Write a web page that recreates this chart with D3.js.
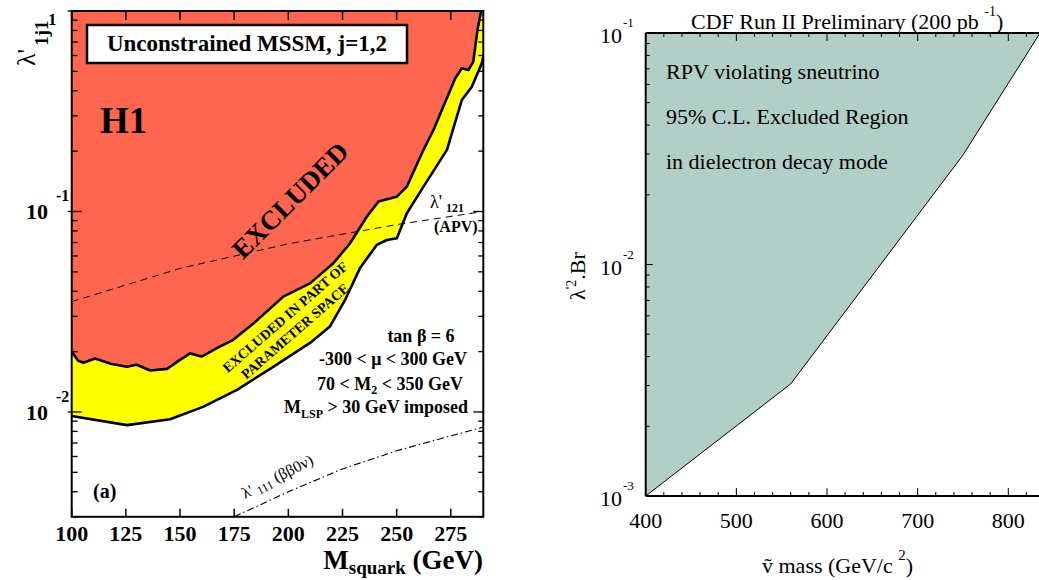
<!DOCTYPE html>
<html><head><meta charset="utf-8">
<script src="https://cdn.jsdelivr.net/npm/d3@7"></script>
<style>body{margin:0;background:#fff} svg{display:block}</style>
</head><body>
<svg id="c" width="1039" height="580"></svg>
<script>
// ---------- Left panel data (H1) ----------
const leftXTicks = [100,125,150,175,200,225,250,275];
const leftXTickLabels = ["100","125","150","175","200","225","250","275"];
const redMass   = [100,103,105.4,110.8,118,125.4,130,136.2,144,150,154.6,160,167,174.6,184,197.7,210,220.8,228.5,236.2,241.6,250.1,254.7,262.4,267,277,280.1,283.1,285.4,287.3,289];
const redLambda = [0.0200,0.0180,0.0176,0.0185,0.0174,0.0168,0.0172,0.0161,0.0164,0.0182,0.0196,0.0189,0.0208,0.0229,0.0277,0.0376,0.0438,0.0552,0.0694,0.0942,0.112,0.1185,0.133,0.203,0.255,0.461,0.518,0.508,0.559,0.804,1.0];
const yellowMass   = [100,125.5,145.4,160.6,176.3,193,210,219.3,226.2,233.1,240.8,245.5,250.1,254.7,262.4,273.2,280.1,284.7,289.3,290];
const yellowLambda = [0.00955,0.0086,0.0092,0.0106,0.0129,0.0168,0.0221,0.0268,0.0362,0.0523,0.0681,0.0721,0.0735,0.098,0.133,0.203,0.36,0.419,0.548,0.592];
const apvMass   = [100,150,200,250,290];
const apvLambda = [0.0355,0.052,0.069,0.086,0.100];
const bbMass    = [175,200,225,250,275,290];
const bbLambda  = [0.0030,0.0040,0.0052,0.0064,0.0076,0.0084];

// ---------- Right panel data (CDF) ----------
const rightXTicks = [400,500,600,700,800];
const rightXTickLabels = ["400","500","600","700","800"];
const rightYDecades = [0.1,0.01,0.001];
const rightYExp = ["-1","-2","-3"];
const rpvMass  = [400,560,750,835];
const rpvLimit = [0.001,0.00305,0.0297,0.1];

const svg = d3.select('#c');
const serif = "'Liberation Serif','Times New Roman',serif";

// ================= LEFT PANEL =================
const xL = d3.scaleLinear().domain([100,290]).range([71.7,483.3]);
const yL = d3.scaleLog().domain([0.003,1]).range([516.8,11]);
const L = {l:xL.range()[0], r:xL.range()[1], t:yL.range()[1], b:yL.range()[0]};

svg.append('clipPath').attr('id','clipL').append('rect')
  .attr('x',L.l).attr('y',L.t).attr('width',L.r-L.l).attr('height',L.b-L.t);
const gL = svg.append('g').attr('clip-path','url(#clipL)');

const yellowPts = yellowMass.map((m,i)=>[m,yellowLambda[i]]);
const redPts = redMass.map((m,i)=>[m,redLambda[i]]);
const line = d3.line().x(d=>xL(d[0])).y(d=>yL(d[1]));

gL.append('path')
  .attr('d', line(yellowPts.concat([[290,1],[100,1]])) + 'Z')
  .attr('fill','#ffff00');
gL.append('path')
  .attr('d', line(redPts.concat([[100,1]])) + 'Z')
  .attr('fill','#ff6650');
gL.append('path').attr('d', line(yellowPts)).attr('fill','none').attr('stroke','#000').attr('stroke-width',2.6).attr('stroke-linejoin','round');
gL.append('path').attr('d', line(redPts)).attr('fill','none').attr('stroke','#000').attr('stroke-width',2.6).attr('stroke-linejoin','round');

gL.append('path').attr('d', line(apvMass.map((m,i)=>[m,apvLambda[i]])))
  .attr('fill','none').attr('stroke','#000').attr('stroke-width',1).attr('stroke-dasharray','7,5');
gL.append('path').attr('d', line(bbMass.map((m,i)=>[m,bbLambda[i]])))
  .attr('fill','none').attr('stroke','#000').attr('stroke-width',1.1).attr('stroke-dasharray','7,3,1.5,3');

svg.append('rect').attr('x',L.l).attr('y',L.t).attr('width',L.r-L.l).attr('height',L.b-L.t)
  .attr('fill','none').attr('stroke','#000').attr('stroke-width',2);

leftXTicks.forEach(v=>{
  svg.append('line').attr('x1',xL(v)).attr('x2',xL(v)).attr('y1',L.b).attr('y2',L.b-8).attr('stroke','#000').attr('stroke-width',1.5);
  svg.append('line').attr('x1',xL(v)).attr('x2',xL(v)).attr('y1',L.t).attr('y2',L.t+9).attr('stroke','#000').attr('stroke-width',1.5);
});
svg.append('g').selectAll('text').data(leftXTicks).join('text')
  .attr('x',d=>xL(d)).attr('y',541).attr('text-anchor','middle')
  .attr('font-family',serif).attr('font-weight','bold').attr('font-size',22)
  .text((d,i)=>leftXTickLabels[i]);

yL.ticks().forEach(v=>{
  const major = Math.abs(Math.log10(v)-Math.round(Math.log10(v)))<1e-6;
  const y = yL(v);
  svg.append('line').attr('x1',L.l-(major?4:0)).attr('x2',L.l+(major?10:6)).attr('y1',y).attr('y2',y).attr('stroke','#000').attr('stroke-width',1.3);
  svg.append('line').attr('x1',L.r).attr('x2',L.r-(major?10:5)).attr('y1',y).attr('y2',y).attr('stroke','#000').attr('stroke-width',1.3);
});
svg.append('text').attr('x',48).attr('y',25).attr('font-family',serif).attr('font-weight','bold').attr('font-size',17).text('1');
[[0.1,'-1'],[0.01,'-2']].forEach(([v,e])=>{
  const y = yL(v);
  svg.append('text').attr('x',26).attr('y',y+8).attr('font-family',serif).attr('font-weight','bold').attr('font-size',22).text('10');
  svg.append('text').attr('x',56).attr('y',y-10).attr('font-family',serif).attr('font-weight','bold').attr('font-size',16).text(e);
});
const yt = svg.append('text').attr('transform','translate(35,66) rotate(-90)')
  .attr('font-family',serif).attr('font-size',26);
yt.append('tspan').text("λ'");
yt.append('tspan').attr('dy',13).attr('dx',3).attr('font-weight','bold').attr('font-size',19).text('1j1');

const xt = svg.append('text').attr('x',483).attr('y',569).attr('text-anchor','end')
  .attr('font-family',serif).attr('font-weight','bold').attr('font-size',27);
xt.append('tspan').text('M');
xt.append('tspan').attr('dy',5).attr('font-size',19).text('squark');
xt.append('tspan').attr('dy',-5).text(' (GeV)');

svg.append('rect').attr('x',87).attr('y',25).attr('width',320).attr('height',38)
  .attr('fill','#fff').attr('stroke','#000').attr('stroke-width',2.5);
svg.append('text').attr('x',247).attr('y',51).attr('text-anchor','middle')
  .attr('font-family',serif).attr('font-weight','bold').attr('font-size',23)
  .text('Unconstrained MSSM, j=1,2');

svg.append('text').attr('x',100).attr('y',133).attr('font-family',serif).attr('font-weight','bold').attr('font-size',37).text('H1');

svg.append('text').attr('transform','translate(290,200) rotate(-45)').attr('text-anchor','middle').attr('dy','0.35em')
  .attr('font-family',serif).attr('font-weight','bold').attr('font-size',27).text('EXCLUDED');

svg.append('text').attr('transform','translate(285,317) rotate(-41)').attr('text-anchor','middle').attr('dy','0.35em')
  .attr('font-family',serif).attr('font-weight','bold').attr('font-size',14).text('EXCLUDED IN PART OF');
svg.append('text').attr('transform','translate(295,331) rotate(-41)').attr('text-anchor','middle').attr('dy','0.35em')
  .attr('font-family',serif).attr('font-weight','bold').attr('font-size',14).text('PARAMETER SPACE');

const apv = svg.append('text').attr('x',430).attr('y',208).attr('font-family',serif).attr('font-size',18);
apv.append('tspan').text("λ'");
apv.append('tspan').attr('dx',4).attr('dy',4).attr('font-weight','bold').attr('font-size',12).text('121');
svg.append('text').attr('x',434).attr('y',232).attr('font-family',serif).attr('font-weight','bold').attr('font-size',16).text('(APV)');

const bb = svg.append('text').attr('transform','translate(245,499) rotate(-27)').attr('font-family',serif).attr('font-size',16);
bb.append('tspan').text("λ'");
bb.append('tspan').attr('dx',4).attr('dy',3).attr('font-size',12).text('111');
bb.append('tspan').attr('dx',4).attr('dy',-3).text('(ββ0ν)');

function ptext(x,y){return svg.append('text').attr('x',x).attr('y',y).attr('text-anchor','middle').attr('font-family',serif).attr('font-weight','bold').attr('font-size',18);}
ptext(421,342).text('tan β = 6');
ptext(393,365).text('-300 < μ < 300 GeV');
const m2 = ptext(390,390); m2.append('tspan').text('70 < M'); m2.append('tspan').attr('dy',4).attr('font-size',12).text('2'); m2.append('tspan').attr('dy',-4).text(' < 350 GeV');
const ml = ptext(376,413); ml.append('tspan').text('M'); ml.append('tspan').attr('dy',5).attr('font-size',12).text('LSP'); ml.append('tspan').attr('dy',-5).text(' > 30 GeV imposed');

svg.append('text').attr('x',93).attr('y',498).attr('font-family',serif).attr('font-weight','bold').attr('font-size',20).text('(a)');

// ================= RIGHT PANEL =================
const xR = d3.scaleLinear().domain([400,850]).range([645.7,645.7+4.5*90.65]);
const yR = d3.scaleLog().domain([0.001,0.1]).range([496,33]);
const R = {l:xR.range()[0], r:xR.range()[1], t:yR.range()[1], b:yR.range()[0]};
svg.append('clipPath').attr('id','clipR').append('rect')
  .attr('x',R.l).attr('y',R.t).attr('width',R.r-R.l).attr('height',R.b-R.t);
const gR = svg.append('g').attr('clip-path','url(#clipR)');
const lineR = d3.line().x(d=>xR(d[0])).y(d=>yR(d[1]));
const rpvPts = rpvMass.map((m,i)=>[m,rpvLimit[i]]);
gR.append('path').attr('d', lineR(rpvPts.concat([[400,0.1]]))+'Z').attr('fill','#b1cfc7');
gR.append('path').attr('d', lineR(rpvPts)).attr('fill','none').attr('stroke','#000').attr('stroke-width',1);

svg.append('line').attr('x1',R.l).attr('x2',R.r).attr('y1',R.b).attr('y2',R.b).attr('stroke','#000').attr('stroke-width',2);
svg.append('line').attr('x1',R.l).attr('x2',R.r).attr('y1',R.t).attr('y2',R.t).attr('stroke','#000').attr('stroke-width',2);
svg.append('line').attr('x1',R.l).attr('x2',R.l).attr('y1',R.t).attr('y2',R.b).attr('stroke','#000').attr('stroke-width',2);
d3.range(400,860,20).forEach(v=>{
  const major = v%100===0;
  const x = xR(v), len = major?8:4;
  svg.append('line').attr('x1',x).attr('x2',x).attr('y1',R.b).attr('y2',R.b-len).attr('stroke','#000').attr('stroke-width',1);
  svg.append('line').attr('x1',x).attr('x2',x).attr('y1',R.t).attr('y2',R.t+len).attr('stroke','#000').attr('stroke-width',1);
});
yR.ticks().forEach(v=>{
  const major = Math.abs(Math.log10(v)-Math.round(Math.log10(v)))<1e-6;
  const y = yR(v);
  svg.append('line').attr('x1',R.l).attr('x2',R.l+(major?7:4)).attr('y1',y).attr('y2',y).attr('stroke','#000').attr('stroke-width',1);
});
svg.append('g').selectAll('text').data(rightXTicks).join('text')
  .attr('x',d=>xR(d)).attr('y',528).attr('text-anchor','middle')
  .attr('font-family',serif).attr('font-size',22).text((d,i)=>rightXTickLabels[i]);
rightYDecades.forEach((v,i)=>{
  const y = yR(v);
  svg.append('text').attr('x',600).attr('y',y+10).attr('font-family',serif).attr('font-size',22).text('10');
  svg.append('text').attr('x',623).attr('y',y-6).attr('font-family',serif).attr('font-size',13).text(rightYExp[i]);
});
const tt = svg.append('text').attr('x',691).attr('y',29).attr('font-family',serif).attr('font-size',22);
tt.append('tspan').text('CDF Run II Preliminary (200 pb ');
tt.append('tspan').attr('dy',-13).attr('font-size',14).text('-1');
tt.append('tspan').attr('dy',13).text(')');
const rx = svg.append('text').attr('x',762).attr('y',573).attr('font-family',serif).attr('font-size',22);
rx.append('tspan').text('ṽ mass (GeV/c ');
rx.append('tspan').attr('dy',-13).attr('font-size',15).text('2');
rx.append('tspan').attr('dy',13).text(')');
const ry = svg.append('text').attr('transform','translate(585,300) rotate(-90)').attr('font-family',serif).attr('font-size',22);
ry.append('tspan').text('λ');
ry.append('tspan').attr('dy',-9).attr('font-size',14).text("'2");
ry.append('tspan').attr('dy',9).text('.Br');
[['RPV violating sneutrino',79],['95% C.L. Excluded Region',124],['in dielectron decay mode',169]].forEach(([t,y])=>{
  svg.append('text').attr('x',666).attr('y',y).attr('font-family',serif).attr('font-size',22).text(t);
});
</script>
</body></html>
